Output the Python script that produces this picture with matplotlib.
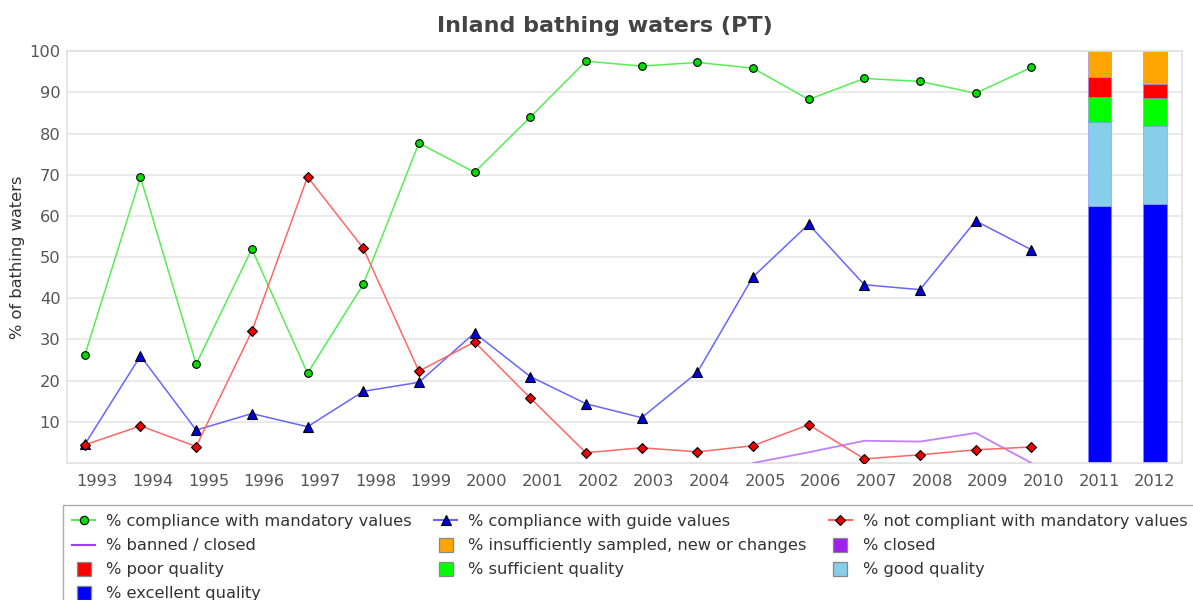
import numpy as np
import matplotlib
matplotlib.use("Agg")
import matplotlib.pyplot as plt
from matplotlib.lines import Line2D

years = ["1993", "1994", "1995", "1996", "1997", "1998", "1999", "2000", "2001", "2002",
         "2003", "2004", "2005", "2006", "2007", "2008", "2009", "2010", "2011", "2012"]

# line series, 1993-2010
mandatory = [26.2, 69.4, 24.0, 52.0, 21.8, 43.4, 77.7, 70.6, 84.0, 97.6,
             96.4, 97.3, 95.9, 88.3, 93.4, 92.7, 89.8, 96.1]
guide = [4.5, 26.0, 8.0, 12.0, 8.8, 17.4, 19.6, 31.6, 21.0, 14.4,
         11.0, 22.0, 45.2, 58.0, 43.3, 42.1, 58.8, 51.8]
not_compliant = [4.4, 9.0, 4.0, 32.0, 69.5, 52.2, 22.3, 29.4, 15.8, 2.5,
                 3.7, 2.7, 4.2, 9.3, 1.0, 2.0, 3.2, 3.9]
banned = [np.nan] * 12 + [0.0, 2.6, 5.4, 5.2, 7.3, 0.0]

# stacked bars, 2011-2012
bar_years = ["2011", "2012"]
excellent = [62.5, 62.8]
good = [20.4, 19.0]
sufficient = [6.1, 6.8]
poor = [4.7, 3.4]
closed = [0.0, 0.0]
insufficient = [6.3, 8.0]

fs = 11.7
fig = plt.figure(figsize=(11.93, 6.0), dpi=100)
ax = fig.add_axes([66.7 / 1193, 1 - 463 / 600, (1181.7 - 66.7) / 1193, (463 - 51.3) / 600])

x_all = np.arange(len(years))
xl = x_all[:len(mandatory)] - 0.22

ax.plot(xl, mandatory, color="#55ee55", lw=1.1, marker="o", ms=5.5,
        mfc="#00dd00", mec="black", mew=0.8, zorder=4)
ax.plot(xl, guide, color="#6666ff", lw=1.1, marker="^", ms=6.5,
        mfc="#0000dd", mec="black", mew=0.8, zorder=4)
ax.plot(xl, not_compliant, color="#ff6666", lw=1.1, marker="D", ms=5.2,
        mfc="#ee0000", mec="black", mew=0.8, zorder=4)
ax.plot(xl, banned, color="#c080ff", lw=1.3, zorder=3)

xb = np.array([years.index(y) for y in bar_years])
bw = 0.42
bottom = np.zeros(len(bar_years))
for vals, col in [(excellent, "#0000ff"), (good, "#87ceeb"), (sufficient, "#00ff00"),
                  (poor, "#ff0000"), (closed, "#a020f0"), (insufficient, "#ffa500")]:
    ax.bar(xb, vals, bw, bottom=bottom, color=col, edgecolor="#8888ff", lw=0.4, zorder=2)
    bottom += np.array(vals)

ax.set_xlim(-0.545, 19.48)
ax.set_ylim(0, 100)
ax.set_yticks(np.arange(10, 101, 10))
ax.set_xticks(x_all)
ax.set_xticklabels(years)
ax.tick_params(length=0, labelsize=fs, colors="#555555", pad=8)
ax.tick_params(axis="y", pad=4.5)
ax.grid(axis="y", color="#e6e6e6", lw=1.2)
ax.set_axisbelow(True)
for s in ax.spines.values():
    s.set_color("#e0e0e0")
    s.set_linewidth(1.2)

ax.set_ylabel("% of bathing waters", fontsize=fs, color="#333333", labelpad=3)
fig.text(0.507, 1 - 26 / 600, "Inland bathing waters (PT)", ha="center", va="center",
         fontsize=16, fontweight="bold", color="#444444")

def sq(c):
    return Line2D([], [], ls="none", marker="s", ms=9.5, mfc=c, mec="#888888", mew=0.9)

h_green = Line2D([], [], color="#55ee55", marker="o", ms=6, mfc="#00dd00", mec="black", mew=0.8)
h_blue = Line2D([], [], color="#6666ff", marker="^", ms=7, mfc="#0000dd", mec="black", mew=0.8)
h_red = Line2D([], [], color="#ff6666", marker="D", ms=5.5, mfc="#ee0000", mec="black", mew=0.8)
h_ban = Line2D([], [], color="#a040f0", lw=1.5)

handles = [h_green, h_ban, sq("#ff0000"), sq("#0000ff"),
           h_blue, sq("#ffa500"), sq("#00ff00"),
           h_red, sq("#a020f0"), sq("#87ceeb")]
labels = ["% compliance with mandatory values", "% banned / closed", "% poor quality",
          "% excellent quality",
          "% compliance with guide values", "% insufficiently sampled, new or changes",
          "% sufficient quality",
          "% not compliant with mandatory values", "% closed", "% good quality"]

leg = fig.legend(handles, labels, ncol=3, loc="upper left",
                 bbox_to_anchor=(63 / 1193, 1 - 504.7 / 600), fontsize=fs,
                 frameon=True, fancybox=False, edgecolor="#999999",
                 handlelength=1.39, handletextpad=0.66,
                 columnspacing=1.42, labelspacing=0.56, borderpad=0.58,
                 borderaxespad=0)
for t in leg.get_texts():
    t.set_color("#333333")
leg.get_frame().set_linewidth(1.0)

fig.savefig("out.png", dpi=100)
